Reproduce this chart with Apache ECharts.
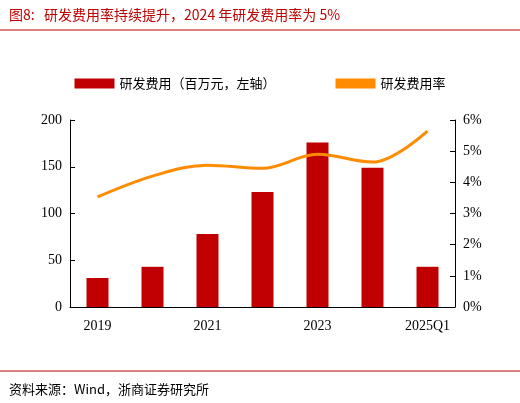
<!DOCTYPE html>
<html><head><meta charset="utf-8">
<script src="https://cdn.jsdelivr.net/npm/echarts@6/dist/echarts.min.js"></script>
<style>body{margin:0}#c{width:520px;height:403px}</style></head>
<body><div id="c"></div>
<script>
const categories=['2019','2020','2021','2022','2023','2024','2025Q1'];
const rdExpense=[31,43,78,123,176,149,43];
const rdRate=[3.53,4.2,4.55,4.45,4.9,4.65,5.64];
const leftTicks=[0,50,100,150,200];
const font='"Noto Sans CJK SC","Liberation Serif",serif';
const ch=echarts.init(document.getElementById('c'));
ch.setOption({
  animation:false,
  textStyle:{fontFamily:font},
  title:[{text:'图8:   研发费用率持续提升，2024 年研发费用率为 5%',left:4,top:3,textStyle:{color:'#c00000',fontSize:14,fontWeight:'normal',fontFamily:font}},
         {text:'资料来源：Wind，浙商证券研究所',left:4,top:378,textStyle:{color:'#000',fontSize:13,fontWeight:'normal',fontFamily:font}}],
  graphic:[{type:'line',shape:{x1:0,y1:30,x2:520,y2:30},style:{stroke:'#c00000',lineWidth:1}},
           {type:'line',shape:{x1:0,y1:371,x2:520,y2:371},style:{stroke:'#c00000',lineWidth:1}}],
  legend:{top:72,left:'center',itemGap:60,itemWidth:40,itemHeight:10,textStyle:{fontSize:13,color:'#000'},
    data:[{name:'研发费用（百万元，左轴）',icon:'rect'},{name:'研发费用率',icon:'rect'}]},
  grid:{left:70,right:65,top:120,bottom:96},
  xAxis:{type:'category',data:categories,axisTick:{show:false},axisLine:{lineStyle:{color:'#000'}},
    axisLabel:{color:'#000',fontSize:14,margin:12,fontFamily:'"Liberation Serif",serif'}},
  yAxis:[{type:'value',min:0,max:200,interval:50,splitLine:{show:false},axisLine:{show:true,lineStyle:{color:'#000'}},axisTick:{show:true,inside:true},
    axisLabel:{color:'#000',fontSize:14,fontFamily:'"Liberation Serif",serif'}},
    {type:'value',min:0,max:6,interval:1,splitLine:{show:false},axisLine:{show:true,lineStyle:{color:'#000'}},axisTick:{show:true,inside:true},
    axisLabel:{color:'#000',fontSize:14,formatter:'{value}%',fontFamily:'"Liberation Serif",serif'}}],
  series:[{name:'研发费用（百万元，左轴）',type:'bar',data:rdExpense,barWidth:22,itemStyle:{color:'#c00000'}},
    {name:'研发费用率',type:'line',yAxisIndex:1,data:rdRate,smooth:0.35,symbol:'none',lineStyle:{color:'#ff8c00',width:3},itemStyle:{color:'#ff8c00'}}]
});
</script></body></html>
